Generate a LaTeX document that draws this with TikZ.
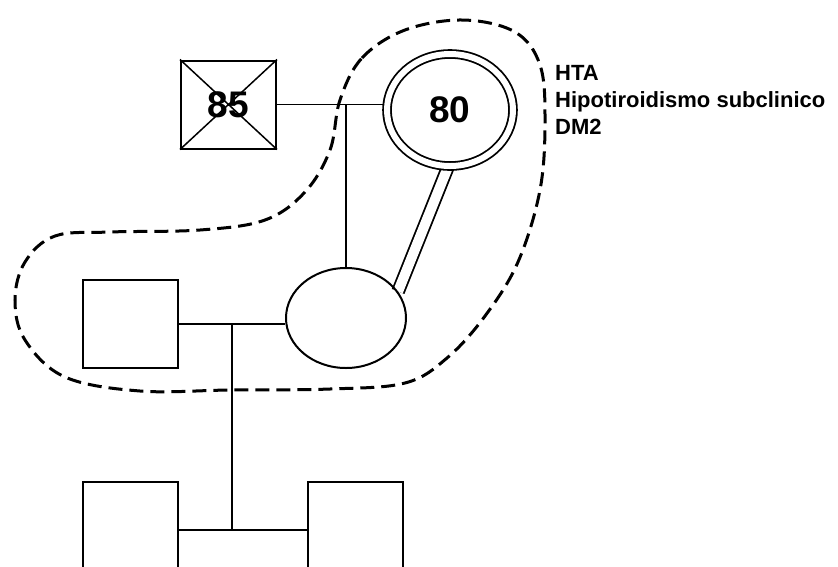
\documentclass[tikz,border=0pt]{standalone}
\usepackage{fontspec}
\setmainfont{Liberation Sans}
\usepackage{tikz}
\usetikzlibrary{shapes,calc,positioning,backgrounds}

\begin{document}
\begin{tikzpicture}[x=1pt,y=-1pt,
    male/.style={draw,line width=2pt,minimum width=95pt,minimum height=88pt,inner sep=0pt},
    female/.style={draw,ellipse,line width=2pt,minimum width=120pt,minimum height=100pt,inner sep=0pt},
    link/.style={line width=1.8pt},
    ageno/.style={font=\fontsize{37}{37}\selectfont\bfseries}]
    \useasboundingbox (0,0) rectangle (838,566);

    % generacion 1
    \node[male,ageno] (g85) at (228.5,104.5) {85};
    \draw[line width=1.5pt] (g85.north west) -- (g85.south east)
                            (g85.north east) -- (g85.south west);
    \node[draw,ellipse,double,double distance=6pt,line width=1.8pt,
          minimum width=126pt,minimum height=112pt,inner sep=0pt,ageno] (p80) at (450,110) {80};
    \node[anchor=north west,inner sep=0pt,align=left,
          font=\fontsize{22}{27}\selectfont\bfseries] (dx) at (555,65)
          {HTA\\Hipotiroidismo subclinico\\DM2};

    % generacion 2 y 3
    \node[female] (fem) at (346,318) {};
    \node[male] (fa) at (130.5,324) {};
    \node[male,minimum height=96pt] (c1) at (130.5,530) {};
    \node[male,minimum height=96pt] (c2) at (355.5,530) {};
    \coordinate (mar) at ($(fa.east)!0.5!(fa.east -| fem.west)$);

    \begin{scope}[on background layer]
        \fill[white] (0,0) rectangle (838,566);
        \draw[link] (g85.east) -- (g85.east -| p80.west);
        \draw[link] (g85.east -| fem.north) -- (fem.north);
        \draw[link,double,double distance=10pt] (fem.27) -- (p80.268);
        \draw[link] (fa.east) -- (fa.east -| fem.west);
        \draw[link] (mar) -- (mar |- c1.east);
        \draw[link] (c1.east) -- (c2.west);
    \end{scope}

    % grupo conviviente
    \draw[line width=3pt,dash pattern=on 14pt off 7pt] plot[smooth cycle,tension=0.6] coordinates {
        (340,100) (362,58) (405,30) (463,20) (515,32) (540,65) (545,120) (540,190)
        (518,262) (485,316) (447,358) (405,383) (330,389) (230,390) (140,391)
        (65,377) (25,340) (15,300) (25,262) (55,236) (110,232) (200,230)
        (265,220) (305,192) (330,150)};
\end{tikzpicture}
\end{document}
